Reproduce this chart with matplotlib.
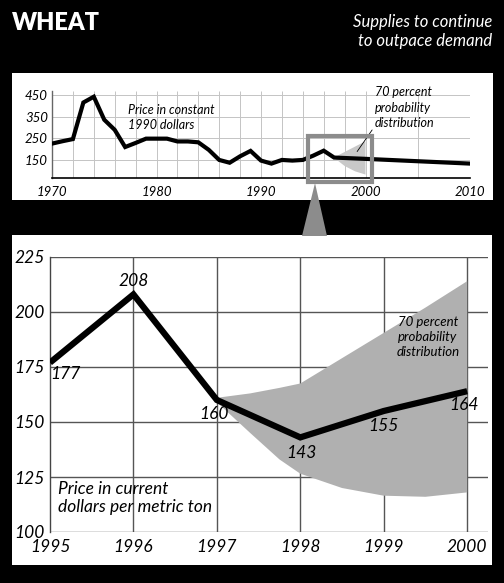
import matplotlib.pyplot as plt
from matplotlib.patches import Rectangle, Polygon

plt.rcParams['font.family'] = ['Lato', 'DejaVu Sans']
plt.rcParams['font.style'] = 'italic'

# long run price, constant 1990 dollars
hist_years = [1970, 1971, 1972, 1973, 1974, 1975, 1976, 1977, 1978, 1979,
              1980, 1981, 1982, 1983, 1984, 1985, 1986, 1987, 1988, 1989,
              1990, 1991, 1992, 1993, 1994, 1995, 1996, 1997, 2000, 2005, 2010]
hist_price = [224, 235, 245, 415, 442, 335, 288, 208, 227, 247,
              247, 247, 234, 234, 230, 195, 148, 135, 165, 190,
              145, 131, 148, 145, 148, 168, 191, 159, 153, 142, 131]
fan_small_years = [1997, 1998, 1999, 2000]
fan_small_hi = [160, 185, 210, 235]
fan_small_lo = [158, 120, 95, 80]
top_grid_x = [1972, 1974, 1976, 1978, 1980, 1982, 1984, 1986, 1988, 1990,
              1992, 1994, 1996, 1998, 2000, 2005, 2010]
top_yticks = [150, 250, 350, 450]
top_xticks = [1970, 1980, 1990, 2000, 2010]

# detail, current dollars per metric ton
years = [1995, 1996, 1997, 1998, 1999, 2000]
price = [177, 208, 160, 143, 155, 164]
fan_years = [1997, 1997.4, 1997.75, 1998, 1998.5, 1999, 1999.5, 2000]
fan_hi = [161, 163, 165.5, 167.5, 179, 190.5, 202, 214]
fan_lo = [159, 145, 133, 126.5, 120, 116.5, 116, 118]
yticks = [100, 125, 150, 175, 200, 225]

fig = plt.figure(figsize=(5.04, 5.83), dpi=100, facecolor='black')

# white panels
fig.patches.append(Rectangle((12 / 504, 1 - 200 / 583), 481 / 504, 127 / 583,
                             transform=fig.transFigure, facecolor='white',
                             edgecolor='none', zorder=-2))
fig.patches.append(Rectangle((12 / 504, 1 - 565 / 583), 480 / 504, 330 / 583,
                             transform=fig.transFigure, facecolor='white',
                             edgecolor='none', zorder=-2))
# pointer from the zoom box
fig.patches.append(Polygon([(315 / 504, 1 - 183 / 583), (302 / 504, 1 - 236 / 583),
                            (327 / 504, 1 - 236 / 583)], closed=True,
                           transform=fig.transFigure, facecolor='#8c8c8c',
                           edgecolor='none', zorder=-1))

fig.text(12 / 504, 1 - 30 / 583, 'WHEAT', color='white', fontsize=17,
         fontweight='heavy', style='normal', ha='left', va='baseline')
fig.text(492 / 504, 1 - 46 / 583, 'Supplies to continue\nto outpace demand',
         color='white', fontsize=12, ha='right', va='baseline',
         linespacing=1.22)

# ---- top panel
ax1 = fig.add_axes([52 / 504, 1 - 178 / 583, 418 / 504, 87.3 / 583])
ax1.set_facecolor('none')
ax1.set_xlim(1970, 2010)
ax1.set_ylim(64, 470)
ax1.vlines(top_grid_x, 64, 470, color='#c4c4c4', lw=0.7, zorder=1)
ax1.hlines(top_yticks, 1970, 2010, color='#c4c4c4', lw=0.7, zorder=1)
ax1.fill_between(fan_small_years, fan_small_lo, fan_small_hi,
                 facecolor='#c8c8c8', edgecolor='none', zorder=2)
ax1.plot(hist_years, hist_price, color='black', lw=3, zorder=3,
         solid_joinstyle='miter')
ax1.add_patch(Rectangle((1994.5, 45), 6.1, 213, fill=False,
                        edgecolor='#8c8c8c', lw=3, clip_on=False, zorder=4))
ax1.set_xticks(top_xticks, [str(v) for v in top_xticks], style='italic')
ax1.set_yticks(top_yticks, [str(v) for v in top_yticks], style='italic')
ax1.tick_params(length=0, pad=3, labelsize=9.5)
ax1.tick_params(axis='x', pad=6)
for s in ['top', 'right']:
    ax1.spines[s].set_visible(False)
ax1.spines['left'].set_color('#666')
ax1.spines['left'].set_linewidth(1)
ax1.spines['bottom'].set_linewidth(1.2)
ax1.text(1977.3, 345, 'Price in constant\n1990 dollars', fontsize=9,
         ha='left', va='center', linespacing=1.35)
ax1.annotate('70 percent\nprobability\ndistribution', xy=(1999.2, 187),
             xytext=(2000.9, 390), fontsize=9, ha='left', va='center',
             linespacing=1.35, annotation_clip=False,
             arrowprops=dict(arrowstyle='-', color='black', lw=0.6,
                             shrinkA=0, shrinkB=0, relpos=(0.02, 0.12)))

# ---- detail panel
ax2 = fig.add_axes([50 / 504, 1 - 532 / 583, 438 / 504, 275 / 583])
ax2.set_facecolor('none')
ax2.set_xlim(1995, 2000.25)
ax2.set_ylim(100, 225)
ax2.vlines(years[1:], 100, 225, color='#555555', lw=1, zorder=1)
ax2.hlines(yticks, 1995, 2000.25, color='#555555', lw=1, zorder=1)
ax2.set_xticks(years, [str(v) for v in years], style='italic')
ax2.set_yticks(yticks, [str(v) for v in yticks], style='italic')
ax2.tick_params(length=0, labelsize=12.5)
ax2.tick_params(axis='x', pad=5)
ax2.tick_params(axis='y', pad=4)
for s in ['top', 'right', 'bottom']:
    ax2.spines[s].set_visible(False)
ax2.spines['left'].set_color('#444')
ax2.spines['left'].set_linewidth(1)

ax2.fill_between(fan_years, fan_lo, fan_hi, facecolor='#b0b0b0',
                 edgecolor='none', zorder=2)
ax2.plot(years, price, color='black', lw=4.5, zorder=3,
         solid_joinstyle='miter', solid_capstyle='butt')

label_offsets = [(11, -8), (0, 10), (-2, -10), (1, -11), (0, -11), (-2, -10)]
for x, y, off in zip(years, price, label_offsets):
    ax2.annotate(str(y), (x, y), xytext=off, textcoords='offset points',
                 fontsize=12.5, ha='center', va='center', zorder=4)

ax2.text(1999.53, 188.6, '70 percent\nprobability\ndistribution',
         fontsize=9.5, ha='center', va='center', linespacing=1.3, zorder=4)
ax2.text(1995.1, 115.5, 'Price in current\ndollars per metric ton',
         fontsize=12.5, ha='left', va='center', linespacing=1.12)

fig.savefig('out.png', dpi=100, facecolor='black')
